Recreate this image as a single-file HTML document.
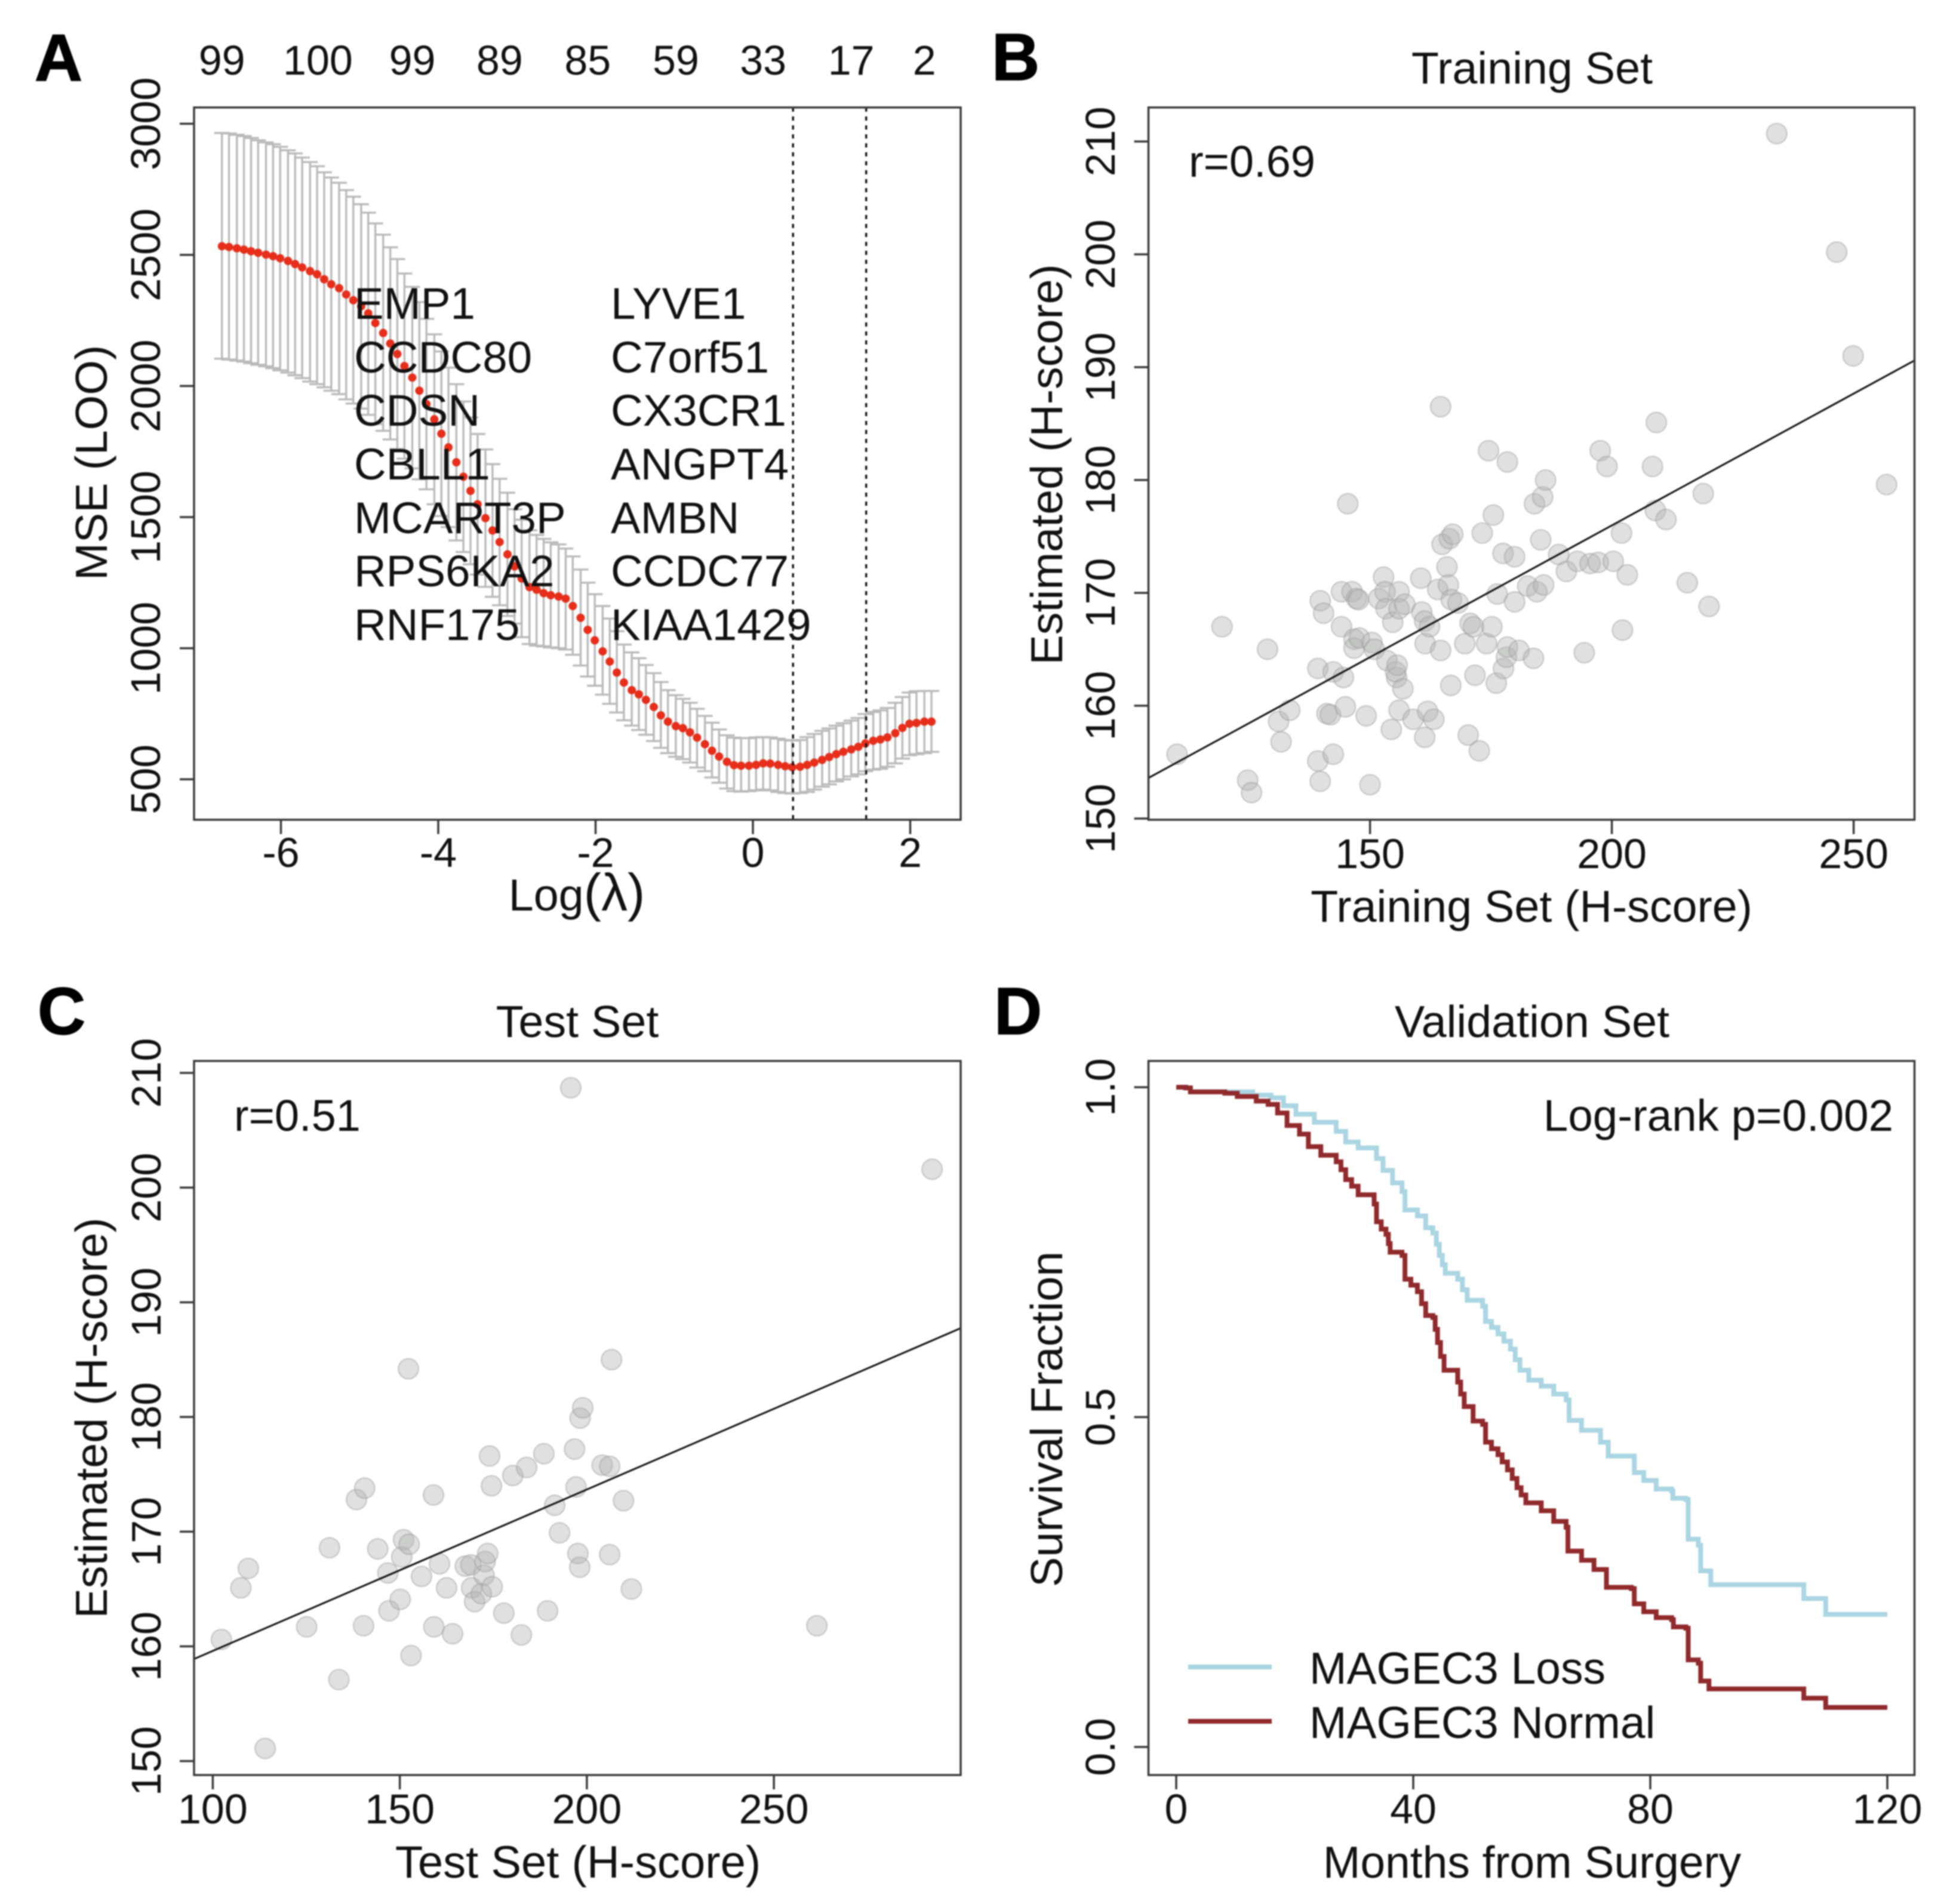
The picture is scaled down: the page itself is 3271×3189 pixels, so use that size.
<!DOCTYPE html>
<html lang="en">
<head>
<meta charset="utf-8">
<title>Four panel H-score figure</title>
<style>
html,body{margin:0;padding:0;background:#fff;width:3271px;height:3189px;overflow:hidden}
svg{display:block;filter:blur(1px)}
svg text{font-family:"Liberation Sans",Arial,sans-serif;font-size:70px;fill:#111}
svg text.lab{font-size:75.5px}
svg text.ann{font-size:74px}
svg text.gene{font-size:74.5px}
svg text.leg{font-size:75px}
svg text.letter{font-size:111px;font-weight:bold;fill:#000;stroke:#000;stroke-width:1.5px}
</style>
</head>
<body>
<svg id="fig" xmlns="http://www.w3.org/2000/svg" width="3271" height="3189" viewBox="0 0 3271 3189">
  <rect x="0" y="0" width="3271" height="3189" fill="#fff"/>

  <g id="panelA">
    <text class="letter" x="58" y="135">A</text>
    <g id="aBars"></g>
    <g id="aDots"></g>
    <g id="aLines"></g>
    <g id="aGenes">
      <text class="gene" x="593" y="534">EMP1</text>
      <text class="gene" x="593" y="624">CCDC80</text>
      <text class="gene" x="593" y="713">CDSN</text>
      <text class="gene" x="593" y="803">CBLL1</text>
      <text class="gene" x="593" y="893">MCART3P</text>
      <text class="gene" x="593" y="982">RPS6KA2</text>
      <text class="gene" x="593" y="1072">RNF175</text>
      <text class="gene" x="1023" y="534">LYVE1</text>
      <text class="gene" x="1023" y="624">C7orf51</text>
      <text class="gene" x="1023" y="713">CX3CR1</text>
      <text class="gene" x="1023" y="803">ANGPT4</text>
      <text class="gene" x="1023" y="893">AMBN</text>
      <text class="gene" x="1023" y="982">CCDC77</text>
      <text class="gene" x="1023" y="1072">KIAA1429</text>
    </g>
    <g id="aAxes"></g>
    <rect x="325" y="180" width="1284" height="1193" fill="none" stroke="#3a3a3a" stroke-width="3.5"/>
    <text class="lab" x="966" y="1525" text-anchor="middle">Log<tspan style="font-size:88px">(λ)</tspan></text>
    <text class="lab" x="179" y="775" text-anchor="middle" transform="rotate(-90 179 775)">MSE (LOO)</text>
  </g>

  <g id="panelB">
    <text class="letter" x="1661" y="134">B</text>
    <text class="lab" x="2566" y="140" text-anchor="middle">Training Set</text>
    <g id="bDots"></g>
    <g id="bLine"></g>
    <g id="bAxes"></g>
    <rect x="1923.5" y="180" width="1283" height="1193" fill="none" stroke="#3a3a3a" stroke-width="3.5"/>
    <text class="ann" x="1991" y="296">r=0.69</text>
    <text class="lab" x="2565" y="1544" text-anchor="middle">Training Set (H-score)</text>
    <text class="lab" x="1779" y="778" text-anchor="middle" transform="rotate(-90 1779 778)">Estimated (H-score)</text>
  </g>

  <g id="panelC">
    <text class="letter" x="63" y="1732">C</text>
    <text class="lab" x="967" y="1737" text-anchor="middle">Test Set</text>
    <g id="cDots"></g>
    <g id="cLine"></g>
    <g id="cAxes"></g>
    <rect x="325" y="1777" width="1284" height="1196" fill="none" stroke="#3a3a3a" stroke-width="3.5"/>
    <text class="ann" x="392" y="1894">r=0.51</text>
    <text class="lab" style="font-size:76px" x="968" y="3145" text-anchor="middle">Test Set (H-score)</text>
    <text class="lab" x="179" y="2375" text-anchor="middle" transform="rotate(-90 179 2375)">Estimated (H-score)</text>
  </g>

  <g id="panelD">
    <text class="letter" x="1665" y="1732">D</text>
    <text class="lab" x="2566" y="1737" text-anchor="middle">Validation Set</text>
    <g id="dCurves"></g>
    <g id="dAxes"></g>
    <rect x="1923.5" y="1777" width="1283" height="1196" fill="none" stroke="#3a3a3a" stroke-width="3.5"/>
    <text class="gene" x="3171" y="1894" text-anchor="end">Log-rank p=0.002</text>
    <g>
      <line x1="1990" x2="2130" y1="2792" y2="2792" stroke="#aad5e2" stroke-width="8"/>
      <text class="leg" x="2193" y="2820">MAGEC3 Loss</text>
      <line x1="1990" x2="2130" y1="2883" y2="2883" stroke="#912a2c" stroke-width="8"/>
      <text class="leg" x="2193" y="2911">MAGEC3 Normal</text>
    </g>
    <text class="lab" style="font-size:75px" x="2566" y="3145" text-anchor="middle">Months from Surgery</text>
    <text class="lab" x="1779" y="2377" text-anchor="middle" transform="rotate(-90 1779 2377)">Survival Fraction</text>
  </g>
</svg>

<script>
/* ---------- Panel A data ---------- */
const logLambda = [-6.75,-6.66,-6.56,-6.47,-6.38,-6.29,-6.19,-6.10,-6.01,-5.91,-5.82,-5.73,-5.63,-5.54,-5.45,-5.36,-5.26,-5.17,-5.08,-4.98,-4.89,-4.80,-4.70,-4.61,-4.52,-4.43,-4.33,-4.24,-4.15,-4.05,-3.96,-3.87,-3.77,-3.68,-3.59,-3.50,-3.40,-3.31,-3.22,-3.12,-3.03,-2.94,-2.84,-2.75,-2.66,-2.57,-2.47,-2.38,-2.29,-2.19,-2.10,-2.01,-1.91,-1.82,-1.73,-1.64,-1.54,-1.45,-1.36,-1.26,-1.17,-1.08,-0.98,-0.89,-0.80,-0.71,-0.61,-0.52,-0.43,-0.33,-0.24,-0.15,-0.05,0.04,0.13,0.22,0.32,0.41,0.50,0.60,0.69,0.78,0.88,0.97,1.06,1.15,1.25,1.34,1.43,1.53,1.62,1.71,1.81,1.90,1.99,2.08,2.18,2.27];
const mseMean = [2533,2530,2525,2520,2514,2508,2501,2495,2487,2477,2465,2452,2438,2426,2407,2388,2373,2349,2327,2304,2277,2240,2202,2162,2122,2076,2032,1982,1931,1873,1818,1766,1709,1654,1600,1549,1496,1449,1405,1358,1312,1266,1233,1223,1210,1202,1197,1189,1161,1116,1070,1030,988,949,907,869,840,824,803,776,744,720,703,695,679,659,634,609,587,567,554,552,552,555,561,560,555,550,546,548,555,564,574,585,596,605,614,624,637,647,652,660,676,696,712,715,720,720];
const mseUpper = [2965,2963,2958,2953,2946,2937,2929,2922,2912,2899,2887,2871,2854,2838,2815,2795,2775,2747,2722,2693,2661,2620,2577,2529,2484,2429,2378,2320,2256,2197,2132,2070,2007,1941,1880,1817,1758,1702,1646,1593,1530,1490,1450,1432,1417,1404,1396,1380,1350,1300,1250,1206,1161,1113,1065,1014,984,962,936,905,871,840,821,807,792,769,742,716,690,668,659,657,657,660,661,660,655,650,648,650,661,673,685,694,705,714,724,734,749,757,763,772,792,814,831,836,837,837];
const mseLower = [2104,2101,2097,2093,2087,2081,2075,2068,2060,2051,2041,2030,2017,2007,1995,1982,1969,1949,1933,1914,1890,1855,1829,1796,1760,1723,1686,1644,1606,1549,1504,1462,1411,1367,1320,1281,1234,1196,1164,1123,1094,1042,1016,1010,1007,1003,1000,995,975,934,892,857,823,788,755,725,705,688,670,646,620,600,586,577,564,545,531,507,487,465,455,453,455,458,461,458,452,448,446,448,452,461,472,481,492,500,511,519,531,537,540,548,561,579,592,596,600,605];
const lambdaMarks = [0.51,1.44];
const aXTicks = [-6,-4,-2,0,2];
const aXTickLabels = ["-6","-4","-2","0","2"];
const aYTicks = [500,1000,1500,2000,2500,3000];
const aYTickLabels = ["500","1000","1500","2000","2500","3000"];
const aTopAt = [-6.75,-5.53,-4.33,-3.22,-2.10,-0.98,0.13,1.25,2.18];
const aTopLabels = ["99","100","99","89","85","59","33","17","2"];

/* ---------- Panel B data ---------- */
const trainX = [110.1,119.4,128.8,124.7,125.5,131.1,133.4,131.6,139.2,139.7,140.4,139.2,139.7,141.1,141.8,142.4,142.4,144.5,144.1,144.1,144.9,145.4,146.3,146.7,146.7,147.2,147.6,147.8,149.2,150,150.4,150.9,151.8,152.8,153.1,153.3,153.5,154.4,154.7,155.5,155.3,155.6,156,156,156,156.8,157.2,158.9,160.5,160.7,161.3,161.3,161.4,161.9,162.3,163.2,164,164.6,164.6,164.9,165.9,166.2,166.4,166.7,167.1,166.8,168.2,169.6,170.3,170.7,171.4,171.7,172.6,173.2,174.1,174.5,175.2,175.5,176.1,176.3,177.5,177.6,178.2,178.4,178.4,179.9,179.9,180.8,182.6,183.8,184,184.5,185.3,185.7,185.9,186.3,189,190.6,192.9,194.3,195.5,197.2,197.6,199,200.3,202,202.2,203.2,208.4,209,209.2,211.2,215.6,218.9,220.1,234.1,246.5,249.9,256.8];
const trainY = [155.7,167,165,153.4,152.3,158.6,159.6,156.8,163.3,169.3,168.2,155.1,153.3,159.3,159.2,155.7,163,162.5,170.1,167,159.9,177.9,170.1,165.9,165.1,169.5,169.4,166,159.1,153,165.6,165,169.5,171.4,170.1,168.6,164,157.9,167.4,162.5,163,163.6,170.1,159.6,168.6,161.5,169,158.8,171.3,168.3,167.5,157.2,165.5,159.5,167,158.8,170.3,164.9,186.5,174.3,172.3,170.7,174.8,161.8,175.2,169.4,169.1,165.5,157.4,167.3,167,162.7,156,175.3,165.5,182.6,167,176.9,162,169.9,173.5,163.3,164.3,181.6,165.2,173.2,169.2,164.9,170.6,164.2,177.9,170.1,174.7,178.5,170.7,180,173.4,171.9,172.8,164.7,172.6,172.7,182.6,181.2,172.8,175.3,166.7,171.6,181.2,177.3,185.1,176.5,170.9,178.8,168.8,210.7,200.2,191,179.6];
const trainFitX = [104.2,262.6];
const trainFitY = [153.6,190.6];
const bXTicks = [150,200,250];
const bXTickLabels = ["150","200","250"];
const bYTicks = [150,160,170,180,190,200,210];
const bYTickLabels = ["150","160","170","180","190","200","210"];

/* ---------- Panel C data ---------- */
const testX = [102.3,107.5,109.5,114,125.1,131.2,133.7,138.4,140.3,140.6,144.1,146.8,147.1,150.1,150.5,151,152.5,152.3,153,155.8,159,159.1,160.6,162.5,164.1,167.5,169,169.2,170,171.8,172.5,172.8,173.5,174,174.5,174.7,177.8,180.2,182.5,183.9,188.5,189.5,191.4,192.7,196.7,195.7,197.1,197.6,198.1,198.2,198.9,204.1,206.1,206.1,206.6,209.8,211.9,261.5,292.3];
const testY = [160.6,165.1,166.8,151.1,161.7,168.6,157.1,172.8,161.8,173.8,168.5,166.4,163.1,164.1,167.8,169.3,168.9,184.2,159.2,166.1,173.2,161.7,167.2,165.1,161.1,167,167.1,165.1,163.9,164.6,166.2,167.4,168.1,176.6,174,165.2,162.9,174.9,161,175.6,176.8,163.1,172.3,169.9,177.2,208.7,173.9,168.1,166.9,179.9,180.8,175.8,175.7,168,185,172.7,165,161.8,201.6];
const testFitX = [95,300];
const testFitY = [158.9,187.75];
const cXTicks = [100,150,200,250];
const cXTickLabels = ["100","150","200","250"];
const cYTicks = [150,160,170,180,190,200,210];
const cYTickLabels = ["150","160","170","180","190","200","210"];

/* ---------- Panel D data ---------- */
const lossMonths = [0,1.6,2.4,8.7,12.9,16,18.1,20.2,23.3,27,28.6,30.7,33.8,34.9,36.5,38.1,38.6,40.7,42.1,43.3,43.9,44.4,44.9,45.4,47.5,48.3,49.1,51.7,52.2,53.2,54.3,55.3,56.4,57.2,58,59.5,61.6,63.7,65.8,66.3,68.4,71.6,72.9,77.3,78.9,81,83.6,83.8,86,86.4,88.1,88.5,90.2,105.9,109.6,120];
const lossSurvival = [1,.999,.993,.993,.988,.984,.972,.959,.947,.933,.917,.908,.892,.874,.855,.842,.814,.805,.787,.779,.762,.745,.731,.718,.709,.693,.677,.668,.645,.636,.626,.615,.603,.587,.571,.556,.547,.535,.526,.495,.480,.462,.441,.416,.404,.391,.388,.377,.375,.315,.306,.267,.246,.225,.201,.201];
const normalMonths = [0,1.6,2.4,8.2,10.3,13.5,15.5,17.1,18.7,20.8,22.3,24.4,27,27.8,28.6,29.6,30.7,33.4,33.8,34.6,35.4,35.8,36.1,38.1,38.6,39.6,40.7,41.4,42.1,43.3,43.7,44.1,44.6,45.2,47.5,48,48.6,50.1,51.7,52.2,53.2,54.3,55,55.9,56.7,57.5,58.2,59,61.6,63.7,65.8,66.1,68.4,70.5,72.6,76.8,77.3,78.9,81,83.6,83.9,86,86.4,88.1,88.5,89.9,105.9,109.6,120];
const normalSurvival = [1,.999,.993,.991,.986,.979,.974,.961,.942,.929,.910,.897,.887,.875,.860,.850,.837,.823,.796,.785,.777,.763,.750,.745,.709,.700,.690,.672,.654,.651,.633,.613,.592,.571,.553,.535,.516,.494,.489,.462,.452,.443,.432,.420,.407,.393,.382,.370,.358,.342,.333,.297,.283,.269,.242,.240,.217,.205,.196,.193,.182,.180,.132,.127,.100,.088,.074,.060,.060];
const dXTicks = [0,40,80,120];
const dXTickLabels = ["0","40","80","120"];
const dYTicks = [0,0.5,1];
const dYTickLabels = ["0.0","0.5","1.0"];

/* ---------- Axis functions ---------- */
const aX = v => 1261 + v * 131.75;
const aY = v => 207.3 + (3000 - v) * 0.4392;
const bX = v => 2294.6 + (v - 150) * 8.1;
const bY = v => 237 + (210 - v) * 18.9;
const cX = v => 356.4 + (v - 100) * 6.265;
const cY = v => 1797 + (210 - v) * 19.21;
const dX = v => 1970 + v * 9.925;
const dY = v => 2926 - v * 1105;

const SVGNS = 'http://www.w3.org/2000/svg';
function make(tag, parent, props) {
  const el = document.createElementNS(SVGNS, tag);
  for (const k in props) el.setAttribute(k, props[k]);
  parent.appendChild(el);
  return el;
}
function tag(el, name) {
  
  
  return el;
}
const TICK = 24, TICKCOL = '#3a3a3a', TICKW = 3.5;

function xAxis(parent, scale, ticks, labels, yAxis, baseline, prefix) {
  ticks.forEach((t, i) => {
    const x = scale(t);
    tag(make('line', parent, {x1:x, x2:x, y1:yAxis, y2:yAxis + TICK, stroke:TICKCOL, 'stroke-width':TICKW}), prefix + '-x-tick');
    const lab = tag(make('text', parent, {x:x, y:baseline, 'text-anchor':'middle'}), prefix + '-x-tick-label');
    lab.textContent = labels[i];
  });
}
function yAxis(parent, scale, ticks, labels, xAxisPos, baseline, prefix) {
  ticks.forEach((t, i) => {
    const y = scale(t);
    tag(make('line', parent, {x1:xAxisPos - TICK, x2:xAxisPos, y1:y, y2:y, stroke:TICKCOL, 'stroke-width':TICKW}), prefix + '-y-tick');
    const lab = tag(make('text', parent, {x:baseline, y:y, 'text-anchor':'middle', transform:'rotate(-90 ' + baseline + ' ' + y + ')'}), prefix + '-y-tick-label');
    lab.textContent = labels[i];
  });
}
function scatter(parent, xs, ys, sx, sy, name) {
  xs.forEach((v, i) => {
    tag(make('circle', parent, {cx:sx(v), cy:sy(ys[i]), r:17, fill:'rgba(178,180,178,0.42)', stroke:'rgba(150,152,150,0.45)', 'stroke-width':2.2}), name);
  });
}
function fit(parent, xs, ys, sx, sy, name) {
  tag(make('line', parent, {x1:sx(xs[0]), y1:sy(ys[0]), x2:sx(xs[1]), y2:sy(ys[1]), stroke:'#111', 'stroke-width':3}), name);
}
function stepPath(ts, ss) {
  let d = 'M' + dX(ts[0]) + ' ' + dY(ss[0]);
  for (let i = 1; i < ts.length; i++) d += 'H' + dX(ts[i]) + 'V' + dY(ss[i]);
  return d;
}

/* ---------- Panel A ---------- */
const aBars = document.getElementById('aBars');
logLambda.forEach((v, i) => {
  const x = aX(v), yu = aY(mseUpper[i]), yl = aY(mseLower[i]);
  tag(make('path', aBars, {d:'M' + x + ' ' + yu + 'V' + yl + 'M' + (x - 13) + ' ' + yu + 'H' + (x + 13) + 'M' + (x - 13) + ' ' + yl + 'H' + (x + 13), fill:'none', stroke:'#bababa', 'stroke-width':3.4}), 'error-bar');
});
const aDots = document.getElementById('aDots');
logLambda.forEach((v, i) => {
  tag(make('circle', aDots, {cx:aX(v), cy:aY(mseMean[i]), r:7, fill:'#e62e1b'}), 'mse-point');
});
const aLines = document.getElementById('aLines');
lambdaMarks.forEach(v => {
  tag(make('line', aLines, {x1:aX(v), x2:aX(v), y1:180, y2:1373, stroke:'#111', 'stroke-width':3.4, 'stroke-dasharray':'7 8'}), 'lambda-line');
});
const aAxes = document.getElementById('aAxes');
xAxis(aAxes, aX, aXTicks, aXTickLabels, 1373, 1452, 'a');
yAxis(aAxes, aY, aYTicks, aYTickLabels, 325, 268, 'a');
aTopAt.forEach((v, i) => {
  const t = tag(make('text', aAxes, {x:aX(v), y:125, 'text-anchor':'middle'}), 'a-top-count-label');
  t.textContent = aTopLabels[i];
});

/* ---------- Panel B ---------- */
scatter(document.getElementById('bDots'), trainX, trainY, bX, bY, 'training-point');
fit(document.getElementById('bLine'), trainFitX, trainFitY, bX, bY, 'training-fit-line');
const bAxes = document.getElementById('bAxes');
xAxis(bAxes, bX, bXTicks, bXTickLabels, 1373, 1454, 'b');
yAxis(bAxes, bY, bYTicks, bYTickLabels, 1923.5, 1867, 'b');

/* ---------- Panel C ---------- */
scatter(document.getElementById('cDots'), testX, testY, cX, cY, 'test-point');
fit(document.getElementById('cLine'), testFitX, testFitY, cX, cY, 'test-fit-line');
const cAxes = document.getElementById('cAxes');
xAxis(cAxes, cX, cXTicks, cXTickLabels, 2973, 3054, 'c');
yAxis(cAxes, cY, cYTicks, cYTickLabels, 325, 269, 'c');

/* ---------- Panel D ---------- */
const dCurves = document.getElementById('dCurves');
tag(make('path', dCurves, {d:stepPath(lossMonths, lossSurvival), fill:'none', stroke:'#aad5e2', 'stroke-width':8}), 'curve-magec3-loss');
tag(make('path', dCurves, {d:stepPath(normalMonths, normalSurvival), fill:'none', stroke:'#912a2c', 'stroke-width':8}), 'curve-magec3-normal');
const dAxes = document.getElementById('dAxes');
xAxis(dAxes, dX, dXTicks, dXTickLabels, 2973, 3054, 'd');
yAxis(dAxes, dY, dYTicks, dYTickLabels, 1923.5, 1867, 'd');
</script>
</body>
</html>
